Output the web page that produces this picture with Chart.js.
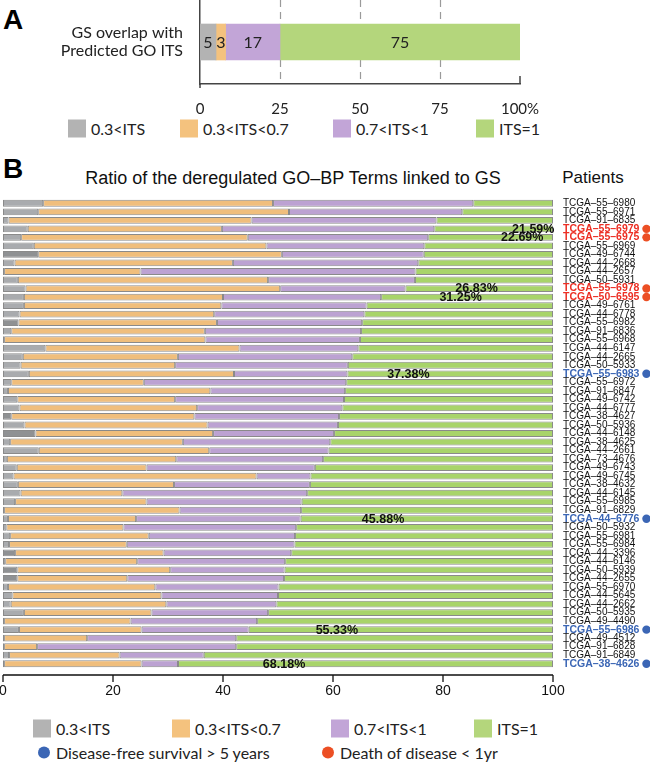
<!DOCTYPE html>
<html>
<head>
<meta charset="utf-8">
<script src="https://cdn.jsdelivr.net/npm/chart.js@4.4.1/dist/chart.umd.min.js"></script>
<style>
body{margin:0;width:650px;height:762px;position:relative;background:#fff;overflow:hidden;font-family:"Liberation Sans",Arial,sans-serif;}
canvas{position:absolute;left:0;}
.panel{position:absolute;font-weight:bold;font-size:28px;line-height:1;color:#000;}
.title{position:absolute;font-size:18px;color:#111;white-space:nowrap;transform:translate(-50%,-50%);}
.leg{position:absolute;font-family:Lato,sans-serif;font-size:16px;color:#222;display:flex;align-items:center;white-space:nowrap;transform:translateY(-50%);}
.sw{width:18px;height:18px;margin-right:5px;}
.dot{width:12px;height:12px;border-radius:50%;margin-right:6px;}
</style>
</head>
<body>
<div class="panel" style="left:3px;top:6px;">A</div>
<canvas id="chartA" width="650" height="115" style="top:0"></canvas>
<div class="leg" style="left:68px;top:128px"><div class="sw" style="background:#b3b3b3"></div>0.3&lt;ITS</div>
<div class="leg" style="left:180px;top:128px"><div class="sw" style="background:#f4c27e"></div>0.3&lt;ITS&lt;0.7</div>
<div class="leg" style="left:333px;top:128px"><div class="sw" style="background:#c2a5d7"></div>0.7&lt;ITS&lt;1</div>
<div class="leg" style="left:476px;top:128px"><div class="sw" style="background:#b4d67c"></div>ITS=1</div>

<div class="panel" style="left:3px;top:155px;">B</div>
<div class="title" style="left:293px;top:178px">Ratio of the deregulated GO–BP Terms linked to GS</div>
<div class="title" style="left:593px;top:178px;font-size:17px">Patients</div>
<canvas id="chartB" width="650" height="525" style="top:185px"></canvas>

<div class="leg" style="left:33px;top:728px"><div class="sw" style="background:#b3b3b3"></div>0.3&lt;ITS</div>
<div class="leg" style="left:172px;top:728px"><div class="sw" style="background:#f4c27e"></div>0.3&lt;ITS&lt;0.7</div>
<div class="leg" style="left:331px;top:728px"><div class="sw" style="background:#c2a5d7"></div>0.7&lt;ITS&lt;1</div>
<div class="leg" style="left:474px;top:728px"><div class="sw" style="background:#b4d67c"></div>ITS=1</div>
<div class="leg" style="left:38px;top:752px"><div class="dot" style="background:#3b66b5"></div>Disease-free survival &gt; 5 years</div>
<div class="leg" style="left:322px;top:752px"><div class="dot" style="background:#ec4f24"></div>Death of disease &lt; 1yr</div>

<script>
// panel A
const overlapLabel = ['GS overlap with', 'Predicted GO ITS'];
const overlapValues = [5, 3, 17, 75];
const itsClasses = ['0.3<ITS', '0.3<ITS<0.7', '0.7<ITS<1', 'ITS=1'];
const colorsA = ['#b3b3b3', '#f4c27e', '#c2a5d7', '#b4d67c'];

// panel B
const patients = [
    'TCGA–55–6980','TCGA–55–6971','TCGA–91–6835','TCGA–55–6979','TCGA–55–6975',
    'TCGA–55–6969','TCGA–49–6744','TCGA–44–2668','TCGA–44–2657','TCGA–50–5931',
    'TCGA–55–6978','TCGA–50–6595','TCGA–49–6761','TCGA–44–6778','TCGA–55–6982',
    'TCGA–91–6836','TCGA–55–6968','TCGA–44–6147','TCGA–44–2665','TCGA–50–5933',
    'TCGA–55–6983','TCGA–55–6972','TCGA–91–6847','TCGA–49–6742','TCGA–44–6777',
    'TCGA–38–4627','TCGA–50–5936','TCGA–44–6148','TCGA–38–4625','TCGA–44–2661',
    'TCGA–73–4676','TCGA–49–6743','TCGA–49–6745','TCGA–38–4632','TCGA–44–6145',
    'TCGA–55–6985','TCGA–91–6829','TCGA–44–6776','TCGA–50–5932','TCGA–55–6981',
    'TCGA–55–6984','TCGA–44–3396','TCGA–44–6146','TCGA–50–5939','TCGA–44–2655',
    'TCGA–55–6970','TCGA–44–5645','TCGA–44–2662','TCGA–50–5935','TCGA–49–4490',
    'TCGA–55–6986','TCGA–49–4512','TCGA–91–6828','TCGA–91–6849','TCGA–38–4626'
];
const itsLow = [
    7.3,6.4,1.0,4.5,3.3, 5.6,6.4,2.1,0.2,2.7, 4.1,3.8,3.8,3.0,2.8, 1.5,0.2,7.7,3.6,3.2,
    4.7,1.5,0.9,2.6,3.0, 1.5,3.9,5.9,1.3,6.5, 0.7,2.5,1.9,2.7,3.2, 2.2,0.2,0.9,0.6,1.3,
    1.1,2.2,0.4,2.6,2.6, 0.9,1.7,1.4,3.8,0.2, 2.9,0.2,0.2,1.1,0.2
];
const itsMid = [
    41.8,45.6,44.2,35.3,41.2, 42.3,44.3,39.7,24.8,45.5, 46.3,36.2,35.9,35.4,36.1, 35.2,36.6,35.3,28.2,28.1,
    37.3,24.1,36.8,28.7,32.3, 33.3,33.3,32.3,31.4,31.0, 30.8,23.6,44.2,28.4,18.5, 23.9,31.9,23.3,21.3,25.2,
    21.4,27.0,24.0,27.8,20.0, 26.8,27.1,28.3,23.2,23.0, 22.3,15.1,6.0,20.1,25.0
];
const itsHigh = [
    36.4,31.5,33.6,38.61,32.81, 28.7,25.8,33.7,50.0,26.7, 22.77,28.75,26.4,27.3,26.4, 28.4,28.1,21.6,31.7,31.4,
    20.62,36.8,24.5,30.7,26.4, 26.3,23.7,22.0,26.8,21.7, 26.7,30.6,9.8,24.7,33.6, 28.2,22.1,29.92,31.4,26.6,
    30.5,23.2,26.9,20.8,28.5, 22.4,21.2,20.0,21.2,23.0, 19.47,27.1,36.2,15.3,6.62
];
const itsOne = [
    14.5,16.5,21.2,21.59,22.69, 23.4,23.5,24.5,25.0,25.1, 26.83,31.25,33.9,34.3,34.7, 34.9,35.1,35.4,36.5,37.3,
    37.38,37.6,37.8,38.0,38.3, 38.9,39.1,39.8,40.5,40.8, 41.8,43.3,44.1,44.2,44.7, 45.7,45.8,45.88,46.7,46.9,
    47.0,47.6,48.7,48.8,48.9, 49.9,50.0,50.3,51.8,53.8, 55.33,57.6,57.6,63.5,68.18
];
const longSurvivors = ['TCGA–55–6983','TCGA–44–6776','TCGA–55–6986','TCGA–38–4626'];
const earlyDeaths = ['TCGA–55–6979','TCGA–55–6975','TCGA–55–6978','TCGA–50–6595'];
const labelledPatients = ['TCGA–55–6979','TCGA–55–6975','TCGA–55–6978','TCGA–50–6595',
    'TCGA–55–6983','TCGA–44–6776','TCGA–55–6986','TCGA–38–4626'];
const labelCentres = [96.4, 94.4, 86.1, 83.2, 73.7, 69.1, 60.7, 51.1];
const darkGrayRows = [6, 14, 25, 27, 41, 43, 44];

const colorsB = ['#a9abae', '#f0be7c', '#bca2d2', '#a8d46a'];
const blue = '#3b66b5', red = '#ec2f24', redDot = '#ec4f24';

Chart.defaults.font.family = '"Liberation Sans", Arial, sans-serif';
Chart.defaults.animation = false;

// no automatic label padding, the plot areas are placed by hand
const noPad = s => { s.paddingTop = 0; s.paddingBottom = 0; s.paddingLeft = 0; s.paddingRight = 0; };

// chart A
const segLabels = {
    id: 'segLabels',
    afterDatasetsDraw(chart) {
        const ctx = chart.ctx;
        ctx.save();
        ctx.font = '16px Lato';
        ctx.fillStyle = '#222';
        ctx.textAlign = 'center';
        ctx.textBaseline = 'middle';
        chart.data.datasets.forEach((ds, i) => {
            const bar = chart.getDatasetMeta(i).data[0];
            ctx.fillText(String(ds.data[0]), (bar.x + bar.base) / 2, bar.y + 1);
        });
        ctx.restore();
    }
};
const gridA = {
    id: 'gridA',
    beforeDatasetsDraw(chart) {
        const ctx = chart.ctx, xs = chart.scales.x, area = chart.chartArea;
        ctx.save();
        ctx.strokeStyle = '#9a9a9a';
        ctx.lineWidth = 1.2;
        ctx.setLineDash([7, 5]);
        [25, 50, 75].forEach(v => {
            const x = Math.round(xs.getPixelForValue(v)) + 0.5;
            ctx.beginPath();
            ctx.moveTo(x, area.top);
            ctx.lineTo(x, area.bottom);
            ctx.stroke();
        });
        ctx.setLineDash([]);
        ctx.strokeStyle = '#444';
        ctx.lineWidth = 1.5;
        ctx.beginPath();
        ctx.moveTo(xs.getPixelForValue(0), area.bottom);
        ctx.lineTo(xs.getPixelForValue(0), area.bottom + 4);
        ctx.moveTo(xs.getPixelForValue(100), area.bottom);
        ctx.lineTo(xs.getPixelForValue(100), area.bottom - 8);
        ctx.stroke();
        ctx.restore();
    }
};

new Chart(document.getElementById('chartA'), {
    type: 'bar',
    data: {
        labels: [overlapLabel],
        datasets: overlapValues.map((v, i) => ({
            label: itsClasses[i],
            data: [v],
            backgroundColor: colorsA[i],
            borderWidth: 0,
            barThickness: 36
        }))
    },
    options: {
        indexAxis: 'y',
        responsive: false,
        layout: { padding: { top: 0, right: 130, left: 0, bottom: 0 } },
        plugins: { legend: { display: false }, tooltip: { enabled: false } },
        scales: {
            x: {
                stacked: true, min: 0, max: 100,
                afterFit: s => { noPad(s); s.height = 31; },
                grid: { display: false },
                border: { color: '#444', width: 1.5 },
                ticks: {
                    stepSize: 25, padding: 8, color: '#222',
                    font: { family: 'Lato', size: 15 },
                    callback: v => v === 100 ? '100%' : v
                }
            },
            y: {
                stacked: true,
                afterFit: s => { noPad(s); s.width = 200; },
                grid: { display: false },
                border: { color: '#444', width: 1.5 },
                ticks: { padding: 9, color: '#222', font: { family: 'Lato', size: 16, lineHeight: 1.15 } }
            }
        }
    },
    plugins: [gridA, segLabels]
});

// chart B
const rowColor = i => longSurvivors.includes(patients[i]) ? blue : (earlyDeaths.includes(patients[i]) ? red : '#111');
const isMarked = i => longSurvivors.includes(patients[i]) || earlyDeaths.includes(patients[i]);

const extrasB = {
    id: 'extrasB',
    afterDatasetsDraw(chart) {
        const ctx = chart.ctx, xs = chart.scales.x, ys = chart.scales.y, area = chart.chartArea;
        ctx.save();
        // percent labels
        ctx.font = 'bold 12.5px "Liberation Sans"';
        ctx.fillStyle = '#111';
        ctx.textAlign = 'center';
        ctx.textBaseline = 'middle';
        labelledPatients.forEach((p, k) => {
            const i = patients.indexOf(p);
            ctx.fillText(itsOne[i].toFixed(2) + '%', xs.getPixelForValue(labelCentres[k]), ys.getPixelForValue(i) + 0.5);
        });
        // x axis line and ticks
        const y0 = area.bottom + 7;
        ctx.strokeStyle = '#111';
        ctx.lineWidth = 1.3;
        ctx.beginPath();
        ctx.moveTo(xs.getPixelForValue(0), y0);
        ctx.lineTo(xs.getPixelForValue(100), y0);
        xs.ticks.forEach(t => {
            const x = xs.getPixelForValue(t.value);
            ctx.moveTo(x, y0);
            ctx.lineTo(x, y0 + 7);
        });
        ctx.stroke();
        ctx.restore();
    },
    afterDraw(chart) {
        const ctx = chart.ctx, ys = chart.scales.y, area = chart.chartArea;
        ctx.save();
        ctx.font = 'bold 10.5px "Liberation Sans"';
        patients.forEach((p, i) => {
            if (!isMarked(i)) return;
            const w = ctx.measureText(p).width;
            ctx.fillStyle = longSurvivors.includes(p) ? blue : redDot;
            ctx.beginPath();
            ctx.arc(area.right + 10 + w + 7, ys.getPixelForValue(i), 4.2, 0, Math.PI * 2);
            ctx.fill();
        });
        ctx.restore();
    }
};

const seriesB = [itsLow, itsMid, itsHigh, itsOne];
new Chart(document.getElementById('chartB'), {
    type: 'bar',
    data: {
        labels: patients,
        datasets: seriesB.map((arr, k) => ({
            label: itsClasses[k],
            data: arr,
            backgroundColor: k === 0 ? patients.map((p, i) => darkGrayRows.includes(i) ? '#8f9193' : colorsB[0]) : colorsB[k],
            borderColor: '#8a8a8a',
            borderWidth: 1,
            borderSkipped: false,
            barPercentage: 0.8,
            categoryPercentage: 1
        }))
    },
    options: {
        indexAxis: 'y',
        responsive: false,
        layout: { padding: { top: 14, left: 3, right: 0, bottom: 0 } },
        plugins: { legend: { display: false }, tooltip: { enabled: false } },
        scales: {
            x: {
                stacked: true, min: 0, max: 100,
                afterFit: s => { noPad(s); s.height = 42; },
                grid: { display: false, drawTicks: false },
                border: { display: false },
                ticks: { stepSize: 20, padding: 15, color: '#111', font: { size: 14 } }
            },
            y: {
                stacked: true,
                position: 'right',
                afterFit: s => { noPad(s); s.width = 97; },
                grid: { display: false, drawTicks: false },
                border: { display: false },
                ticks: {
                    autoSkip: false, padding: 10,
                    color: ctx => rowColor(ctx.index),
                    font: ctx => isMarked(ctx.index) ? { size: 10.5, weight: 'bold' } : { size: 10 }
                }
            }
        }
    },
    plugins: [extrasB]
});
</script>
</body>
</html>
